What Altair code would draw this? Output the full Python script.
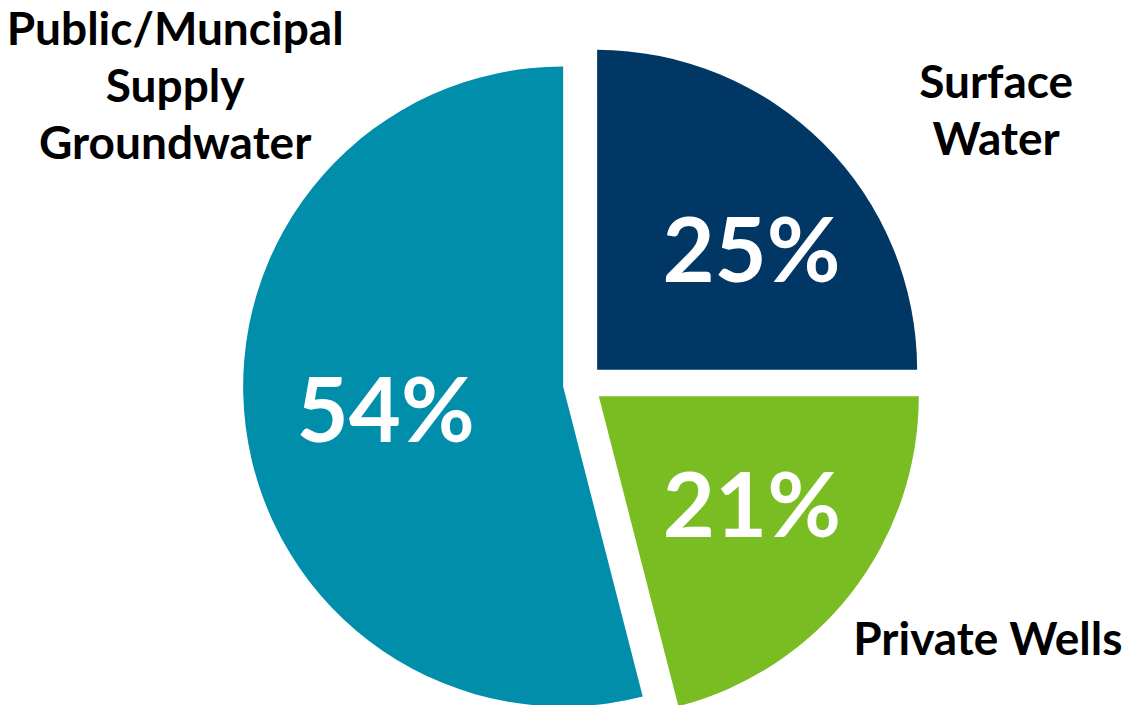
import altair as alt
import pandas as pd

# ---- data ----
categories = ["Surface Water", "Private Wells", "Public/Muncipal Supply Groundwater"]
shares = [25, 21, 54]
label_lines = [["Surface", "Water"], ["Private Wells"], ["Public/Muncipal", "Supply", "Groundwater"]]
order = [0, 1, 2]

# ---- style / layout ----
colors = ["#013765", "#79BD22", "#018EAB"]
FONT = "Lato"
CX, CY = 575, 376      # pie centre (chart px)
EXPLODE = 20           # slice explosion distance
R = 320                # pie radius
PCT_RADIUS = 190
PCT_NUDGE = {"Surface Water": (20, 46), "Private Wells": (3, 24),
             "Public/Muncipal Supply Groundwater": (11, 32)}
CAT_OFFSET = {"Surface Water": (399, -272), "Private Wells": (389, 259),
              "Public/Muncipal Supply Groundwater": (-388, -342)}

df = pd.DataFrame({"category": categories, "share": shares, "order": order,
                   "label": label_lines})

base = (
    alt.Chart(df)
    .transform_window(cum="sum(share)", sort=[alt.SortField("order")], frame=[None, 0])
    .transform_joinaggregate(total="sum(share)")
    .transform_calculate(start="2*PI*(datum.cum - datum.share)/datum.total")
    .transform_calculate(end="2*PI*datum.cum/datum.total")
    .transform_calculate(mid="(datum.start + datum.end)/2")
    .transform_calculate(ox=f"{CX} + {EXPLODE}*sin(datum.mid)")
    .transform_calculate(oy=f"{CY} - {EXPLODE}*cos(datum.mid)")
    .transform_calculate(px=f"datum.ox + {PCT_RADIUS}*sin(datum.mid)")
    .transform_calculate(py=f"datum.oy - {PCT_RADIUS}*cos(datum.mid)")
    .transform_calculate(pct="datum.share + '%'")
)

arcs = base.mark_arc(radius=R).encode(
    x=alt.X("ox:Q", scale=None, axis=None),
    y=alt.Y("oy:Q", scale=None, axis=None),
    theta=alt.Theta("start:Q", scale=None, stack=None),
    theta2="end:Q",
    color=alt.Color("category:N", scale=alt.Scale(domain=categories, range=colors), legend=None),
)

layers = [arcs]
for cat in categories:
    dx, dy = PCT_NUDGE[cat]
    layers.append(
        base.transform_filter(alt.datum.category == cat)
        .mark_text(font=FONT, fontSize=90, fontWeight="bold", color="white",
                   align="center", baseline="alphabetic", dx=dx, dy=dy)
        .encode(x=alt.X("px:Q", scale=None, axis=None),
                y=alt.Y("py:Q", scale=None, axis=None),
                text="pct:N")
    )
    cdx, cdy = CAT_OFFSET[cat]
    layers.append(
        base.transform_filter(alt.datum.category == cat)
        .mark_text(font=FONT, fontSize=46, fontWeight="bold", color="black",
                   align="center", baseline="alphabetic", lineHeight=57, dx=cdx, dy=cdy)
        .encode(x=alt.X("ox:Q", scale=None, axis=None),
                y=alt.Y("oy:Q", scale=None, axis=None),
                text="label")
    )

chart = (
    alt.layer(*layers)
    .properties(width=1118, height=697, autosize="none", padding=0, background="white")
    .configure_view(stroke=None)
)

chart.save("out.html", embed_options={"renderer": "svg", "actions": False})
